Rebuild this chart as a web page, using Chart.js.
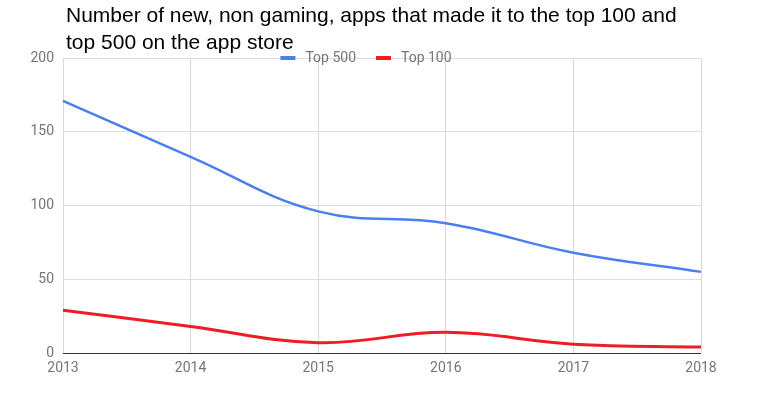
<!DOCTYPE html>
<html>
<head>
<meta charset="utf-8">
<script src="https://cdn.jsdelivr.net/npm/chart.js@4"></script>
<style>
  html, body { margin: 0; padding: 0; background: #fff; }
  #wrap { position: relative; width: 758px; height: 397px; }
  #title {
    position: absolute; left: 66px; top: 1px;
    font-family: "Liberation Sans", Arial, sans-serif;
    font-size: 21px; line-height: 27px; color: #000;
  }
  canvas { position: absolute; left: 0; top: 0; }
</style>
</head>
<body>
<div id="wrap">
  <canvas id="chart" width="758" height="397"></canvas>
  <div id="title">Number of new, non gaming, apps that made it to the top 100 and<br>top 500 on the app store</div>
</div>
<script>
const years = ["2013", "2014", "2015", "2016", "2017", "2018"];
const top500 = [171, 133, 96, 88, 68, 55];
const top100 = [29, 18, 7, 14, 6, 4];
const seriesNames = ["Top 500", "Top 100"];
const seriesColors = ["#4a7ff0", "#ee1c25"];

const tickFont = "Roboto, sans-serif";

// legend drawn on top of the chart, overlapping the top grid line
const topLegend = {
  id: "topLegend",
  afterDraw(chart) {
    const c = chart.ctx;
    const y = chart.chartArea.top;
    c.save();
    c.font = "14px " + tickFont;
    c.textBaseline = "middle";
    const items = chart.data.datasets.map(ds => ({
      label: ds.label, color: ds.borderColor, w: c.measureText(ds.label).width
    }));
    const boxW = 15, gap = 10, itemGap = 20;
    let total = 0;
    items.forEach((it, i) => { total += boxW + gap + it.w + (i ? itemGap : 0); });
    let x = 366 - total / 2;
    items.forEach(it => {
      c.fillStyle = it.color;
      c.fillRect(x, y - 2, boxW, 4);
      x += boxW + gap;
      c.fillStyle = "#757575";
      c.fillText(it.label, x, y);
      x += it.w + itemGap;
    });
    c.restore();
  }
};

new Chart(document.getElementById("chart").getContext("2d"), {
  type: "line",
  data: {
    labels: years,
    datasets: [
      {
        label: seriesNames[0],
        data: top500,
        borderColor: seriesColors[0],
        backgroundColor: seriesColors[0],
        borderWidth: 2.5,
        pointRadius: 0,
        tension: 0.4,
      },
      {
        label: seriesNames[1],
        data: top100,
        borderColor: seriesColors[1],
        backgroundColor: seriesColors[1],
        borderWidth: 3,
        pointRadius: 0,
        tension: 0.4,
      },
    ],
  },
  options: {
    responsive: false,
    animation: false,
    layout: { padding: { top: 58, right: 57, bottom: 0, left: 0 } },
    plugins: {
      legend: { display: false },
      tooltip: { enabled: false },
    },
    scales: {
      x: {
        offset: false,
        grid: { color: "#d9d9d9", drawTicks: false },
        border: { display: false },
        ticks: {
          color: "#757575",
          font: { family: tickFont, size: 14 },
          padding: 7,
          maxRotation: 0,
        },
        afterFit: (scale) => { scale.height = 44; },
      },
      y: {
        min: 0,
        max: 200,
        grid: {
          color: (ctx) => (ctx.tick && ctx.tick.value === 0 ? "#333333" : "#dddddd"),
          drawTicks: false,
        },
        border: { display: false },
        ticks: {
          stepSize: 50,
          color: "#757575",
          font: { family: tickFont, size: 14 },
          padding: 9,
        },
        afterFit: (scale) => { scale.width = 63; },
      },
    },
  },
  plugins: [topLegend],
});
</script>
</body>
</html>
